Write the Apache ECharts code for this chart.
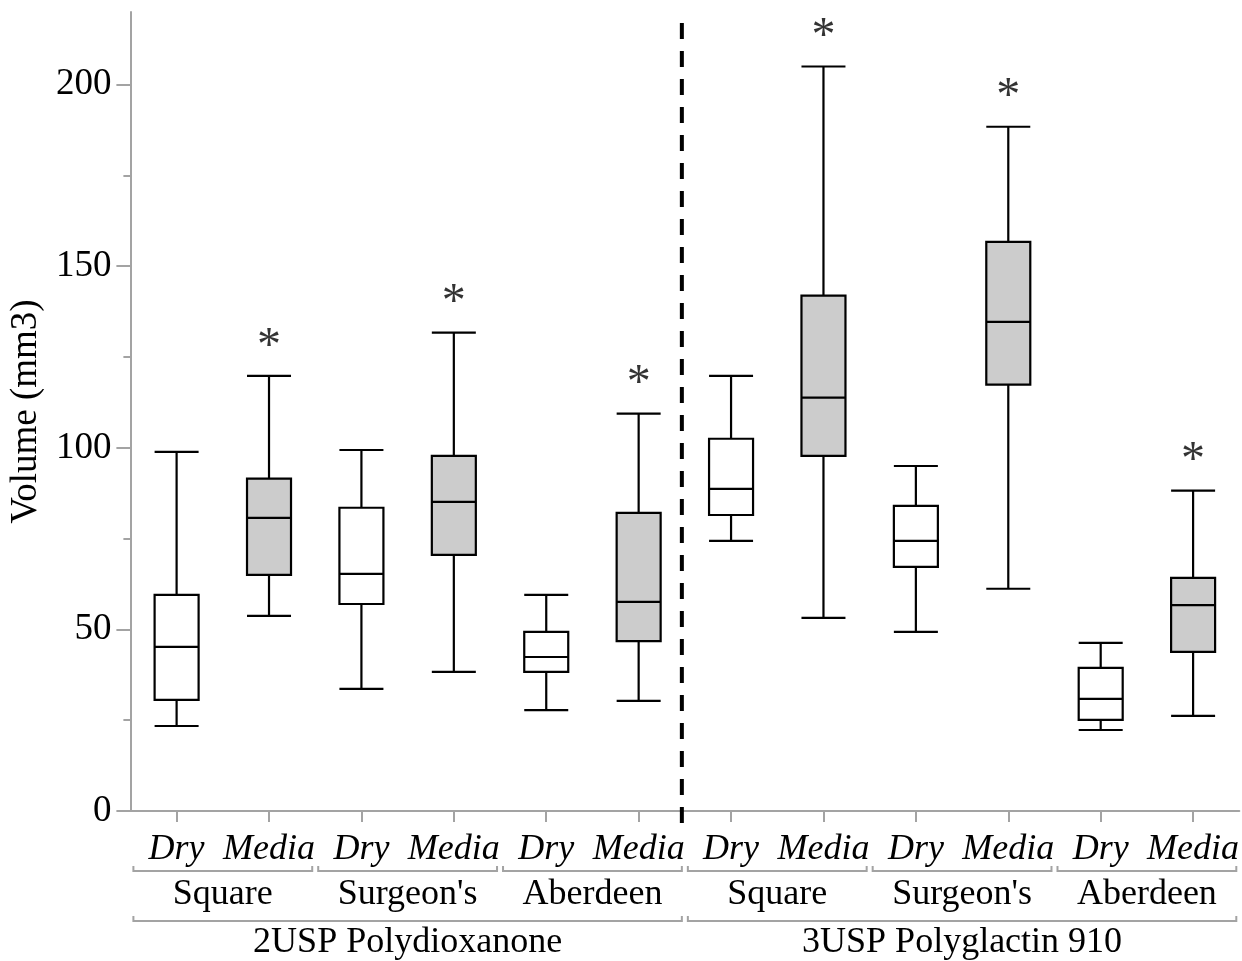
<!DOCTYPE html>
<html><head><meta charset="utf-8">
<script src="https://cdn.jsdelivr.net/npm/echarts@6/dist/echarts.min.js"></script>
<style>html,body{margin:0;padding:0;background:#fff}#c{width:1242px;height:961px}</style>
</head><body><div id="c"></div>
<script>
const conditions = ['Dry','Media','Dry','Media','Dry','Media','Dry','Media','Dry','Media','Dry','Media'];
const knots = ['Square',"Surgeon's",'Aberdeen','Square',"Surgeon's",'Aberdeen'];
const materials = ['2USP Polydioxanone','3USP Polyglactin 910'];
const mins    = [23.4, 53.7, 33.6, 38.3, 27.8, 30.3, 74.4,  53.2, 49.3,  61.2, 22.3, 26.2];
const q1s     = [30.6, 65.0, 57.0, 70.5, 38.3, 46.8, 81.5,  97.8, 67.2, 117.4, 25.1, 43.8];
const medians = [45.2, 80.7, 65.3, 85.1, 42.4, 57.6, 88.7, 113.8, 74.4, 134.7, 30.9, 56.7];
const q3s     = [59.5, 91.5, 83.5, 97.8, 49.3, 82.1,102.5, 141.9, 84.0, 156.7, 39.4, 64.2];
const maxs    = [98.9,119.8, 99.4,131.7, 59.5,109.4,119.8, 205.0, 95.0, 188.4, 46.3, 88.2];
const significant = [false,true,false,true,false,true,false,true,false,true,false,true];
const yTicks = [0,50,100,150,200];
const yMinorTicks = [25,75,125,175];

const FONT = 'Liberation Serif';
const GRAY = '#a3a3a3';
const chart = echarts.init(document.getElementById('c'), null, {renderer:'canvas'});

const boxData = conditions.map((c,i)=>({
  value:[mins[i],q1s[i],medians[i],q3s[i],maxs[i]],
  itemStyle:{color: c==='Media' ? '#cccccc' : '#ffffff', borderColor:'#000', borderWidth:2.2}
}));
const starData = [];
significant.forEach((s,i)=>{ if(s) starData.push([i, maxs[i]]); });

const option = {
  animation:false,
  backgroundColor:'#fff',
  grid:{left:129, right:2, top:12, bottom:150, containLabel:false},
  xAxis:[
    {type:'category', data:conditions, position:'bottom',
     axisLine:{show:true, lineStyle:{color:GRAY, width:2}},
     axisTick:{show:true, alignWithLabel:true, length:11, lineStyle:{color:GRAY, width:2}},
     axisLabel:{show:true, interval:0, margin:21, color:'#000', fontFamily:FONT, fontSize:36, fontStyle:'italic'},
     splitLine:{show:false}},
    {type:'category', data:knots, position:'bottom', offset:45,
     axisLine:{show:false}, axisTick:{show:false},
     axisLabel:{show:true, interval:0, margin:21, color:'#000', fontFamily:FONT, fontSize:36},
     splitLine:{show:false}},
    {type:'category', data:materials, position:'bottom', offset:93,
     axisLine:{show:false}, axisTick:{show:false},
     axisLabel:{show:true, interval:0, margin:21, color:'#000', fontFamily:FONT, fontSize:36},
     splitLine:{show:false}}
  ],
  yAxis:[
    {type:'value', min:0, max:220, position:'left',
     name:'Volume (mm3)', nameLocation:'middle', nameGap:83, nameRotate:90,
     nameTextStyle:{color:'#000', fontFamily:FONT, fontSize:37},
     axisLine:{show:true, lineStyle:{color:GRAY, width:2}},
     axisTick:{show:true, customValues:yTicks, length:14, lineStyle:{color:GRAY, width:2}},
     axisLabel:{show:true, customValues:yTicks, margin:19, color:'#000', fontFamily:FONT, fontSize:37},
     splitLine:{show:false}},
    {type:'value', min:0, max:220, position:'left', offset:0,
     axisLine:{show:false},
     axisTick:{show:true, customValues:yMinorTicks, length:7, lineStyle:{color:GRAY, width:2}},
     axisLabel:{show:false},
     splitLine:{show:false}}
  ],
  series:[
    {type:'boxplot', xAxisIndex:0, yAxisIndex:0, data:boxData, boxWidth:[44,44],
     itemStyle:{borderColor:'#000', borderWidth:2.2}},
    {type:'scatter', xAxisIndex:0, yAxisIndex:0, data:starData, symbol:'circle', symbolSize:2,
     itemStyle:{color:'rgba(0,0,0,0)'},
     label:{show:true, formatter:'*', position:'top', distance:4, color:'#000', fontFamily:FONT, fontSize:48}}
  ]
};
chart.setOption(option);

// brackets and separator derived from the category scale
const c0 = chart.convertToPixel({xAxisIndex:0}, 0);
const c1 = chart.convertToPixel({xAxisIndex:0}, 1);
const band = c1 - c0;
const left0 = c0 - band/2;
const yZero = chart.convertToPixel({yAxisIndex:0}, 0);
const yTop = chart.convertToPixel({yAxisIndex:0}, 220);
const graphics = [];
function bracket(x1, x2, y){
  graphics.push({type:'polyline', shape:{points:[[x1,y-5],[x1,y],[x2,y],[x2,y-5]]},
    style:{stroke:GRAY, lineWidth:2, fill:null}, silent:true});
}
for(let g=0; g<knots.length; g++){
  bracket(left0 + g*2*band + 3, left0 + (g+1)*2*band - 3, yZero + 60);
}
for(let m=0; m<materials.length; m++){
  bracket(left0 + m*6*band + 3, left0 + (m+1)*6*band - 3, yZero + 110);
}
const sepX = left0 + 6*band - 3;
graphics.push({type:'line', shape:{x1:sepX, y1:yTop+11, x2:sepX, y2:yZero+12},
  style:{stroke:'#000', lineWidth:4, lineDash:[16,12]}, silent:true, z:10});
chart.setOption({graphic:graphics});
</script>
</body></html>
